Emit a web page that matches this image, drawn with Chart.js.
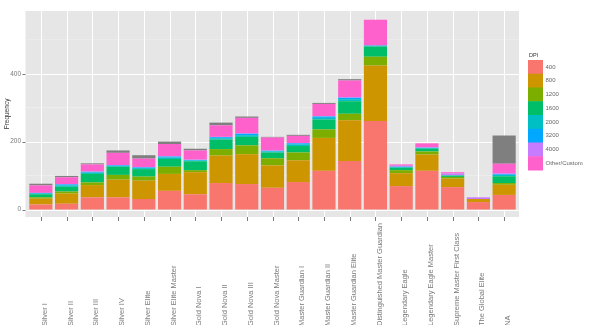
<!DOCTYPE html>
<html><head><meta charset="utf-8">
<script src="https://cdn.jsdelivr.net/npm/chart.js@4/dist/chart.umd.min.js"></script>
<style>html,body{margin:0;padding:0;background:#fff;}#wrap{width:599px;height:325px;}</style>
</head><body><div id="wrap"><canvas id="c" width="599" height="325"></canvas></div>
<script>
const categories = ["Silver I","Silver II","Silver III","Silver IV","Silver Elite","Silver Elite Master","Gold Nova I","Gold Nova II","Gold Nova III","Gold Nova Master","Master Guardian I","Master Guardian II","Master Guardian Elite","Distinguished Master Guardian","Legendary Eagle","Legendary Eagle Master","Supreme Master First Class","The Global Elite","NA"];
const dpi400  = [15,17,36,36,31,55,45,78,75,64,81,114,143,261,69,114,66,22,43];
const dpi800  = [17,30,36,52,54,50,65,81,88,66,64,97,120,163,38,48,25,9,30];
const dpi1200 = [4,6,8,14,12,21,6,19,26,21,23,25,19,26,9,9,5,0,5];
const dpi1600 = [9,14,25,24,22,23,26,28,25,17,19,29,37,30,7,8,4,0,20];
const dpi2000 = [2,4,4,2,3,4,2,4,5,3,5,5,6,2,2,2,1,0,4];
const dpi3200 = [2,3,2,2,2,3,2,3,4,2,3,4,4,1,1,1,0,0,2];
const dpi4000 = [0,1,1,1,1,1,1,1,2,1,1,1,2,0,3,1,5,5,3];
const dpiOther= [22,20,21,36,25,36,27,34,45,38,21,36,49,76,4,12,4,0,28];
const dpiNA   = [5,4,3,7,10,7,5,8,4,2,3,3,4,0,0,0,0,0,83];
const seriesNames = ["400","800","1200","1600","2000","3200","4000","Other/Custom","NA"];
const seriesValues = [dpi400,dpi800,dpi1200,dpi1600,dpi2000,dpi3200,dpi4000,dpiOther,dpiNA];
const seriesColors = ["#F8766D","#CD9600","#7CAE00","#00BE67","#00BFC4","#00A9FF","#C77CFF","#FF61CC","#7F7F7F"];
const legendNames = ["400","800","1200","1600","2000","3200","4000","Other/Custom"];
const yMajorTicks = [0,200,400];
const yMinorTicks = [100,300,500];
const legendTitle = "DPI";
const yTitle = "Frequency";

const FONT = '"Liberation Sans", Arial, sans-serif';

const panelPlugin = {
  id:'panel',
  beforeDraw(chart){
    const {ctx, chartArea:a, scales:{x,y}} = chart;
    const L=a.left-2.5, R=a.right+2, T=a.top, B=a.bottom;
    ctx.save();
    ctx.fillStyle='#E6E6E6';
    ctx.fillRect(L,T,R-L,B-T);
    ctx.strokeStyle='#F3F3F3'; ctx.lineWidth=0.6;
    yMinorTicks.forEach(v=>{const py=y.getPixelForValue(v);ctx.beginPath();ctx.moveTo(L,py);ctx.lineTo(R,py);ctx.stroke();});
    ctx.strokeStyle='#FFFFFF'; ctx.lineWidth=1;
    yMajorTicks.forEach(v=>{const py=Math.round(y.getPixelForValue(v))+0.5;ctx.beginPath();ctx.moveTo(L,py);ctx.lineTo(R,py);ctx.stroke();});
    categories.forEach((c,i)=>{const px=Math.round(x.getPixelForValue(i))+0.5;ctx.beginPath();ctx.moveTo(px,T);ctx.lineTo(px,B);ctx.stroke();});
    ctx.strokeStyle='#555'; ctx.lineWidth=0.8;
    yMajorTicks.forEach(v=>{const py=Math.round(y.getPixelForValue(v))+0.5;ctx.beginPath();ctx.moveTo(L-3,py);ctx.lineTo(L,py);ctx.stroke();});
    categories.forEach((c,i)=>{const px=Math.round(x.getPixelForValue(i))+0.5;ctx.beginPath();ctx.moveTo(px,B);ctx.lineTo(px,B+4);ctx.stroke();});
    ctx.restore();
  },
  afterDraw(chart){
    const {ctx, scales:{x}} = chart;
    ctx.save();
    ctx.fillStyle='#7a7a7a';
    ctx.font='7.5px '+FONT;
    ctx.textAlign='left'; ctx.textBaseline='middle';
    categories.forEach((c,i)=>{
      const px=x.getPixelForValue(i)+4;
      ctx.save(); ctx.translate(px,326); ctx.rotate(-Math.PI/2); ctx.fillText(c,0,0); ctx.restore();
    });
    // legend
    const lx=528, ly=60, kw=15, kh=13.75;
    ctx.fillStyle='#333'; ctx.font='5.5px '+FONT; ctx.textBaseline='middle';
    ctx.fillText(legendTitle, lx+1, 55);
    legendNames.forEach((n,i)=>{
      ctx.fillStyle=seriesColors[i];
      ctx.fillRect(lx, ly+i*kh, kw, kh+0.5);
      ctx.fillStyle='#666'; ctx.font='6px '+FONT;
      ctx.fillText(n, lx+kw+2.5, ly+i*kh+kh/2);
    });
    ctx.restore();
  }
};

new Chart(document.getElementById('c'), {
  type:'bar',
  data:{
    labels: categories,
    datasets: seriesNames.map((n,i)=>({label:n, data:seriesValues[i], backgroundColor:seriesColors[i], borderWidth:0, barPercentage:0.9, categoryPercentage:1.0}))
  },
  options:{
    responsive:false, animation:false, devicePixelRatio:1,
    layout:{padding:{top:3,right:82,left:0,bottom:0}},
    plugins:{legend:{display:false}, tooltip:{enabled:false}},
    scales:{
      x:{stacked:true, grid:{display:false, drawTicks:false}, border:{display:false},
         ticks:{display:false}, afterFit(s){s.height=108;}},
      y:{stacked:true, min:-22, max:585, grid:{display:false, drawTicks:false}, border:{display:false},
         afterBuildTicks(s){s.ticks=yMajorTicks.map(v=>({value:v}));},
         afterFit(s){s.width=28;},
         ticks:{padding:7, color:'#7a7a7a', font:{family:FONT,size:6.5}},
         title:{display:true, text:yTitle, color:'#333', font:{family:FONT,size:6.5}, padding:{top:3,bottom:0}}}
    }
  },
  plugins:[panelPlugin]
});
</script></body></html>
